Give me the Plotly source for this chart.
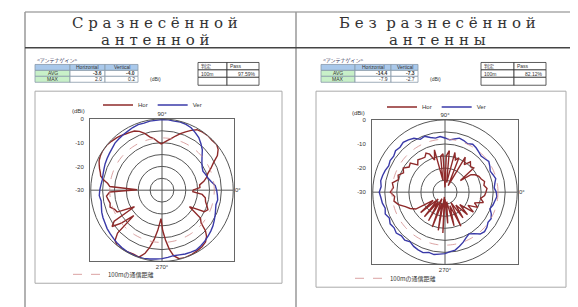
import plotly.graph_objects as go

W, H = 578, 307
OFF = 8  # default page margin of the html body
FW, FH = W - OFF, H - OFF

# ---------------- data ----------------
TITLE_LEFT = ["С р а з н е с ё н н о й", "а н т е н н о й"]
TITLE_RIGHT = ["Б е з  р а з н е с ё н н о й", "а н т е н н ы"]

GAIN_HEADER = ["", "Horizontal", "Vertical"]
ROW_LABELS = ["AVG", "MAX"]
LEFT_H = ["-3.6", "2.0"]
LEFT_V = ["-4.0", "0.2"]
RIGHT_H = ["-14.4", "-7.9"]
RIGHT_V = ["-7.3", "-2.7"]
JUDGE_HEADER = ["判定", "Pass"]
JUDGE_ROW = "100m"
LEFT_PASS = "97.59%"
RIGHT_PASS = "82.12%"

RADIAL_TICKS = [0, -10, -20, -30]
RING_LEVELS = [-25, -20, -15, -10, -5]
DASH_LEVEL = -8

L_VER_T = list(range(0, 360, 5))
L_VER_R = [-7, -7.5, -9, -10, -10.5, -11, -10.5, -9.5, -8, -6, -4.5, -3, -2, -1, -0.5, -0.3,
           -0.5, -0.3, -0.3, -0.5, -0.5, -0.8, -0.6, -0.9, -1.3, -1.5, -1.8, -2, -2.6, -3,
           -3.3, -3.6, -4, -4.3, -4.5, -4.2, -3.8, -3.5, -4, -3.6, -3, -2.6, -2.3, -1.8,
           -1.5, -1.2, -0.8, -0.5, -0.3, -0.2, -0.1, -0.3, -0.6, -0.9, -1.2, -1.6, -2, -1.8,
           -1.4, -1.2, -1, -1.5, -2, -2.6, -3.2, -3.8, -4.6, -5.3, -6, -6.5, -6.2, -6.6]

L_HOR_T = [0, 4, 8, 12, 16, 20, 24, 28, 32, 36, 40, 45, 50, 55, 60, 64, 68, 72, 76, 80, 84,
           88, 91, 95, 99, 103, 107, 111, 115, 119, 123, 127, 131, 136, 141, 146, 151, 155,
           158, 161, 164, 167, 170, 173, 176, 179, 182, 186, 190, 194, 198, 202, 206, 211,
           213, 216, 219, 222, 224, 227, 231, 236, 241, 246, 251, 255, 258, 261, 264, 268,
           271, 274, 277, 280, 284, 289, 295, 300, 305, 310, 314, 317, 320, 324, 329, 333,
           337, 341, 345, 350, 354, 357]
L_HOR_R = [-17, -14, -14, -12, -10.5, -9.5, -7.5, -5.5, -2.5, -0.8, 0, -0.3, 0, -0.2, -0.6,
           -2, -3.5, -5, -6.5, -8, -9, -10, -10.5, -9.5, -8, -7, -5, -3.5, -2.5, -2.2, -1.8,
           -1.2, -0.8, -0.4, 0, 0, -0.3, -0.8, -1.5, -2.2, -3, -3.5, -5, -7, -8, -19.5, -8,
           -6.5, -7, -7.5, -7, -8.5, -9, -16.5, -6, -4, -8, -14, -4, -1, 0, 0, -0.3, -0.5,
           -0.2, -2.5, -5.5, -9, -13, -18, -13, -9, -5, -2, -0.3, 0, -0.2, -0.5, -0.8, -1.5,
           -3, -5, -8.5, -10, -16.5, -10, -9, -10, -11, -11.5, -13, -17]

R_VER_T = list(range(0, 360, 5))
R_VER_R = [-8.7, -9.5, -9, -8.2, -8.8, -9.3, -8.5, -7.8, -8.4, -8.8, -8.2, -7.5, -7, -7.8,
           -7.2, -6.8, -7.6, -8.2, -7.5, -6.8, -7.2, -6.5, -5.3, -5.8, -4.2, -3.5, -3, -3.6,
           -3.2, -4, -3.7, -4.2, -3.6, -3.2, -2.9, -3.4, -2.7, -3.3, -3.6, -4.3, -3.6, -4.5,
           -3.7, -4.2, -3.6, -4.4, -4, -4.8, -4, -3.6, -3.3, -4.1, -3.7, -4.2, -4.5, -5.2,
           -5.6, -6.8, -7.9, -9.2, -10, -9, -7.3, -6.8, -7.3, -8.2, -7.9, -8.8, -10.1, -9.4,
           -9, -8.4]

R_HOR_T = [0, 5, 10, 15, 20, 25, 30, 34, 37, 40, 45, 50, 55, 60, 64, 68, 72, 76, 80, 84, 88,
           90, 93, 97, 100, 104, 108, 112, 116, 120, 125, 130, 135, 140, 145, 150, 155, 160,
           165, 170, 175, 180, 185, 190, 195, 200, 205, 210, 215, 220, 225, 230, 235, 240,
           245, 250, 255, 260, 263, 267, 270, 275, 280, 285, 290, 295, 300, 305, 310, 315,
           320, 325, 330, 335, 340, 345, 350, 355]
R_HOR_R = [-13, -12.5, -13.6, -13, -14, -14.5, -15.6, -17, -22, -14.4, -15, -13.6, -16, -13.2,
           -27, -14.6, -16, -13, -26, -12.7, -15, -28, -14, -15, -25, -11.9, -16, -13, -12,
           -13.3, -13, -12.5, -14, -11.2, -11.8, -10, -11, -9.3, -10, -7.8, -8.5, -7.3, -9,
           -8.5, -10, -12.5, -14, -16, -24, -16.8, -26, -16.7, -25, -16.3, -27, -14.6, -25,
           -13.9, -28, -13, -27, -17, -26, -15.5, -24, -14.4, -25, -17, -23, -16.8, -22,
           -15.6, -19, -15, -17, -13.5, -15, -13.5]

HOR_COLOR = "#8e2a2a"
VER_COLOR = "#3a3aa8"
DASH_COLOR = "#d08a8a"
GRID = "#555555"


def px(x):
    return (x - OFF) / FW


def py(y):
    return 1 - (y - OFF) / FH


def closed(a):
    return list(a) + [a[0]]


fig = go.Figure()

panels = [
    dict(polar="polar", leg="legend", leg2="legend3",
         vt=L_VER_T, vr=L_VER_R, ht=L_HOR_T, hr=L_HOR_R, xa="x", ya="y"),
    dict(polar="polar2", leg="legend2", leg2="legend4",
         vt=R_VER_T, vr=R_VER_R, ht=R_HOR_T, hr=R_HOR_R, xa="x2", ya="y2"),
]

dash_theta = list(range(0, 361, 2))
for p in panels:
    fig.add_trace(go.Scatterpolar(theta=closed(p["ht"]), r=closed(p["hr"]), mode="lines",
                                  name="Hor", line=dict(color=HOR_COLOR, width=1.4),
                                  subplot=p["polar"], legend=p["leg"]))
    fig.add_trace(go.Scatterpolar(theta=closed(p["vt"]), r=closed(p["vr"]), mode="lines",
                                  name="Ver", line=dict(color=VER_COLOR, width=1.4),
                                  subplot=p["polar"], legend=p["leg"]))
    fig.add_trace(go.Scatterpolar(theta=dash_theta, r=[DASH_LEVEL] * len(dash_theta),
                                  mode="lines", name="100mの通信距離",
                                  line=dict(color=DASH_COLOR, width=0.8, dash="dash"),
                                  subplot=p["polar"], legend=p["leg2"]))
    fig.add_trace(go.Scatter(x=[], y=[], xaxis=p["xa"], yaxis=p["ya"], showlegend=False))

# polar geometry (reference pixel boxes)
LBOX = (90, 117, 234, 261)
RBOX = (372, 118, 518, 264)


def polar_layout(box):
    x0, y0, x1, y1 = box
    return dict(
        domain=dict(x=[px(x0), px(x1)], y=[py(y1), py(y0)]),
        bgcolor="rgba(0,0,0,0)",
        radialaxis=dict(range=[-30, 0], tickvals=RING_LEVELS, showticklabels=False,
                        ticks="", gridcolor=GRID, gridwidth=1, showline=False),
        angularaxis=dict(rotation=0, direction="counterclockwise",
                         tickvals=[0, 90, 180, 270], ticktext=["0°", "90°", "", "270°"],
                         ticks="", gridcolor=GRID, linecolor=GRID, linewidth=1,
                         tickfont=dict(size=6, color="#333", family="Liberation Sans")),
    )


def frame_axes(box):
    x0, y0, x1, y1 = box
    xa = dict(domain=[px(x0), px(x1)], range=[0, 1], showline=True, mirror=True,
              linecolor="#666", linewidth=1, showgrid=False, zeroline=False,
              showticklabels=False, ticks="", fixedrange=True)
    ya = dict(domain=[py(y1), py(y0)], range=[-60, 0], tickvals=RADIAL_TICKS,
              ticktext=[str(v) for v in RADIAL_TICKS], showline=True, mirror=True,
              linecolor="#666", linewidth=1, showgrid=False, zeroline=False, ticks="",
              ticklabelstandoff=4, tickfont=dict(size=6, color="#333", family="Liberation Sans"),
              fixedrange=True)
    return xa, ya


xa1, ya1 = frame_axes(LBOX)
xa2, ya2 = frame_axes(RBOX)
xa1["anchor"] = "y"
ya1["anchor"] = "x"
xa2["anchor"] = "y2"
ya2["anchor"] = "x2"

shapes = []
annotations = []


def rect(x0, y0, x1, y1, color="#999", width=1, fill=None):
    d = dict(type="rect", xref="paper", yref="paper", x0=px(x0), x1=px(x1),
             y0=py(y1), y1=py(y0), line=dict(color=color, width=width), layer="below")
    if fill:
        d["fillcolor"] = fill
    return d


def line(x0, y0, x1, y1, color="#999", width=1):
    return dict(type="line", xref="paper", yref="paper", x0=px(x0), x1=px(x1),
                y0=py(y0), y1=py(y1), line=dict(color=color, width=width))


def text(t, x, y, size=5, anchor="center", family="Liberation Sans", color="#333333"):
    annotations.append(dict(text=t, x=px(x), y=py(y), xref="paper", yref="paper",
                            showarrow=False, xanchor=anchor, yanchor="middle",
                            font=dict(family=family, size=size, color=color)))


def draw_table(xe, ye, rows, fills, aligns, linecolor, families=None):
    for i, row in enumerate(rows):
        for j, val in enumerate(row):
            x0, x1, y0, y1 = xe[j], xe[j + 1], ye[i], ye[i + 1]
            shapes.append(rect(x0, y0, x1, y1, linecolor, 0.8, fills[i][j]))
            if val:
                al = aligns[i][j]
                xx = {"left": x0 + 1, "right": x1 - 1, "center": (x0 + x1) / 2}[al]
                fam = families[i][j] if families else "Liberation Sans"
                text(val, xx, (y0 + y1) / 2, 5, al, fam)


BLUE, GREEN, WHITE = "#a9c8ea", "#c8f0c8", "white"


def gain_table(xe, hv, vv):
    rows = [GAIN_HEADER,
            [ROW_LABELS[0], "<b>%s</b>" % hv[0], "<b>%s</b>" % vv[0]],
            [ROW_LABELS[1], hv[1], vv[1]]]
    fills = [[BLUE] * 3, [GREEN, WHITE, WHITE], [GREEN, WHITE, WHITE]]
    aligns = [["center"] * 3, ["center", "right", "right"], ["center", "right", "right"]]
    draw_table(xe, [62, 68, 74, 80], rows, fills, aligns, "#8899aa")


def judge_table(xe, pct):
    rows = [JUDGE_HEADER, [JUDGE_ROW, pct], ["", ""]]
    fills = [[WHITE] * 2] * 3
    aligns = [["left", "left"], ["left", "right"], ["left", "left"]]
    fams = [["Noto Sans CJK JP", "Liberation Sans"]] + [["Liberation Sans"] * 2] * 2
    draw_table(xe, [60, 67.5, 75, 83], rows, fills, aligns, "#333", fams)


gain_table([35, 70, 105, 138], LEFT_H, LEFT_V)
judge_table([198, 227, 259], LEFT_PASS)
gain_table([321, 355, 391, 418], RIGHT_H, RIGHT_V)
judge_table([481, 514, 546], RIGHT_PASS)

shapes += [
    line(25, 9, 576, 9, "#aaa", 1.5),
    line(25, 9, 25, 307, "#999", 1.5),
    line(576, 9, 576, 307, "#aaa", 1.5),
    line(296, 9, 296, 307, "#999", 1.5),
    line(25, 45, 576, 45, "#444", 1.5),
    rect(35, 89, 282, 283, "#aaa", 1),
    rect(316, 89, 566, 287, "#aaa", 1),
]

for cx, lines_ in ((155, TITLE_LEFT), (437, TITLE_RIGHT)):
    for yy, t in zip((20, 37.5), lines_):
        text(t, cx, yy, 15, "center", "DejaVu Serif", "#333333")
for x0, xd in ((35, 148), (321, 428)):
    text("&lt;アンテナゲイン&gt;", x0, 57, 5, "left", "Noto Sans CJK JP", "#333355")
    text("(dBi)", xd, 77, 5, "left")
for xd, yd in ((78, 109), (358, 111)):
    text("(dBi)", xd, yd, 6, "center")

LEG = dict(orientation="h", font=dict(family="Liberation Sans", size=6, color="#333"),
           bgcolor="rgba(0,0,0,0)", xanchor="left", yanchor="middle", itemwidth=30,
           tracegroupgap=0)
LEGJ = dict(LEG, font=dict(family="Noto Sans CJK JP", size=6, color="#333"))

fig.update_layout(
    width=FW, height=FH, margin=dict(l=0, r=0, t=0, b=0),
    paper_bgcolor="white", plot_bgcolor="rgba(0,0,0,0)",
    polar=polar_layout(LBOX), polar2=polar_layout(RBOX),
    xaxis=xa1, yaxis=ya1, xaxis2=xa2, yaxis2=ya2,
    legend=dict(LEG, x=px(98), y=py(103)),
    legend2=dict(LEG, x=px(382), y=py(105)),
    legend3=dict(LEGJ, x=px(68), y=py(274)),
    legend4=dict(LEGJ, x=px(350), y=py(278)),
    shapes=shapes, annotations=annotations, showlegend=True,
)

fig.write_html("out.html")
